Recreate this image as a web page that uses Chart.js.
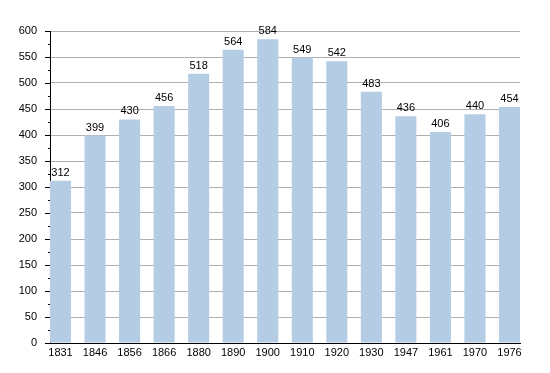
<!DOCTYPE html>
<html><head><meta charset="utf-8">
<script src="https://cdn.jsdelivr.net/npm/chart.js@4/dist/chart.umd.min.js"></script>
<style>html,body{margin:0;padding:0;background:#fff}#wrap{width:550px;height:373px}</style>
</head><body><div id="wrap"><canvas id="c" width="550" height="373"></canvas></div>
<script>
const years = ['1831','1846','1856','1866','1880','1890','1900','1910','1920','1930','1947','1961','1970','1976'];
const population = [312,399,430,456,518,564,584,549,542,483,436,406,440,454];
const yMax = 600;
const yMajorStep = 50;
const yMinorStep = 25;

const FONT = 'Liberation Sans, Arial, sans-serif';

const valueLabels = {
  id: 'valueLabels',
  afterDatasetsDraw(chart) {
    const ctx = chart.ctx;
    const meta = chart.getDatasetMeta(0);
    ctx.save();
    ctx.font = '11px ' + FONT;
    ctx.fillStyle = '#000';
    ctx.textAlign = 'center';
    ctx.textBaseline = 'alphabetic';
    meta.data.forEach((bar, i) => {
      ctx.fillText(String(population[i]), bar.x, bar.y - 5);
    });
    ctx.restore();
  }
};

const yTicks = {
  id: 'yTicks',
  afterDraw(chart) {
    const ctx = chart.ctx;
    const y = chart.scales.y;
    const x0 = y.right;
    ctx.save();
    ctx.strokeStyle = '#000';
    ctx.lineWidth = 1;
    for (let v = 0; v <= yMax; v += yMinorStep) {
      const py = Math.round(y.getPixelForValue(v)) + 0.5;
      const len = (v % yMajorStep === 0) ? 5 : 2;
      ctx.beginPath();
      ctx.moveTo(x0 - len, py);
      ctx.lineTo(x0, py);
      ctx.stroke();
    }
    ctx.restore();
  }
};

new Chart(document.getElementById('c'), {
  type: 'bar',
  data: {
    datasets: [{
      data: population.map((v, i) => ({x: i, y: v})),
      backgroundColor: '#b4cde4',
      borderWidth: 0,
      barPercentage: 0.61,
      categoryPercentage: 1.0
    }]
  },
  options: {
    responsive: false,
    animation: false,
    devicePixelRatio: 1,
    layout: { padding: { top: 31, right: 30, left: 0, bottom: 0 } },
    plugins: { legend: { display: false }, tooltip: { enabled: false } },
    scales: {
      x: {
        type: 'linear',
        offset: false,
        min: -0.304,
        max: 13.304,
        afterBuildTicks(scale) { scale.ticks = years.map((_, i) => ({ value: i })); },
        afterFit(scale) { scale.height = 30; },
        grid: { display: false, drawTicks: false, offset: false },
        border: { display: true, color: '#000', width: 1 },
        ticks: {
          autoSkip: false,
          maxRotation: 0,
          padding: 3,
          color: '#000',
          font: { family: FONT, size: 11 },
          callback: (v) => years[v] ?? ''
        }
      },
      y: {
        min: 0,
        max: yMax,
        afterFit(scale) { scale.width = 50; },
        afterBuildTicks(scale) {
          const t = [];
          for (let v = 0; v <= yMax; v += yMinorStep) t.push({ value: v });
          scale.ticks = t;
        },
        grid: {
          drawTicks: false,
          color: (c) => (c.tick && c.tick.value % yMajorStep === 0) ? (c.tick.value === 0 ? 'rgba(0,0,0,0)' : '#b0b0b0') : '#e3e3e3'
        },
        border: { display: true, color: '#000', width: 1 },
        ticks: {
          padding: 13,
          color: '#000',
          font: { family: FONT, size: 11 },
          callback: (v) => (v % yMajorStep === 0) ? String(v) : ''
        }
      }
    }
  },
  plugins: [valueLabels, yTicks]
});
</script></body></html>
